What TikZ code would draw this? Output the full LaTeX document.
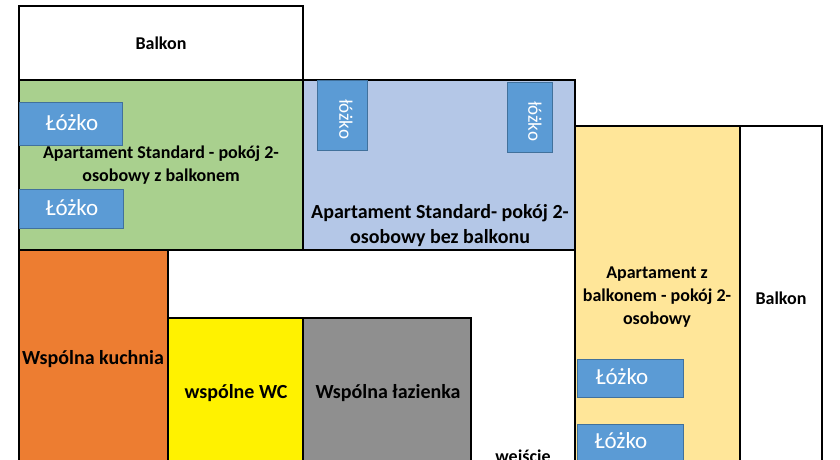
\documentclass[tikz,border=0pt]{standalone}
\usepackage{fontspec}
\setmainfont{Carlito}
\definecolor{grn}{HTML}{A9D08E}
\definecolor{blu}{HTML}{B4C7E7}
\definecolor{yel}{HTML}{FFE699}
\definecolor{org}{HTML}{ED7D31}
\definecolor{gry}{HTML}{8F8F8F}
\definecolor{bed}{HTML}{5B9BD5}
\definecolor{bedb}{HTML}{41719C}
\begin{document}
\begin{tikzpicture}[x=1pt,y=-1pt,
 room/.style={draw=black,line width=1.3pt},
 bedbox/.style={fill=bed,draw=bedb,line width=0.8pt},
 lbl/.style={font=\bfseries\fontsize{18}{23}\selectfont,align=center},
 bigl/.style={font=\bfseries\fontsize{20}{25}\selectfont,align=center},
 bedl/.style={text=white,font=\fontsize{23}{26}\selectfont},
 bedv/.style={text=white,font=\fontsize{19}{22}\selectfont,rotate=-90}]
\useasboundingbox (0,0) rectangle (840,460);
\clip (0,0) rectangle (840,460);
\fill[white] (0,0) rectangle (840,460);
\draw[room] (19,6) rectangle (303,80);
\node[lbl] (b1) at (161,43) {Balkon};
\draw[room,fill=grn] (19,80) rectangle (303,250);
\draw[room,fill=blu] (303,80) rectangle (575,250);
\draw[room,fill=yel] (575,126) rectangle (740,470);
\draw[room] (740,126) rectangle (822,470);
\draw[room,fill=org] (19,250) rectangle (168,470);
\draw[room,fill=yellow] (168,318) rectangle (303,470);
\draw[room,fill=gry] (303,318) rectangle (471,470);
% beds
\draw[bedbox] (19,102) rectangle (122,145); \node[bedl] (g1) at (72,123) {Łóżko};
\draw[bedbox] (19,189) rectangle (123,228); \node[bedl] (g2) at (72,208) {Łóżko};
\draw[bedbox] (317,80) rectangle (367,150); \node[bedv] (u1) at (346,119) {łóżko};
\draw[bedbox] (507,82) rectangle (552,152); \node[bedv] (u2) at (535,121) {łóżko};
\draw[bedbox] (577,359) rectangle (683,397); \node[bedl] (y1) at (622,377) {Łóżko};
\draw[bedbox] (577,424) rectangle (683,462); \node[bedl] (y2) at (621,441) {Łóżko};
% labels
\node[lbl] (t1) at (161,165) {Apartament Standard - pokój 2-\\osobowy z balkonem};
\node[bigl] (t2) at (440,226) {Apartament Standard- pokój 2-\\osobowy bez balkonu};
\node[lbl] (t3) at (657,297) {Apartament z\\balkonem - pokój 2-\\osobowy};
\node[lbl] (t4) at (781,298) {Balkon};
\node[bigl] (t5) at (93,359) {Wspólna kuchnia};
\node[bigl] (t6) at (236,393) {wspólne WC};
\node[bigl] (t7) at (388,393) {Wspólna łazienka};
\node[lbl] (t8) at (523,458) {wejście};
\end{tikzpicture}
\end{document}
